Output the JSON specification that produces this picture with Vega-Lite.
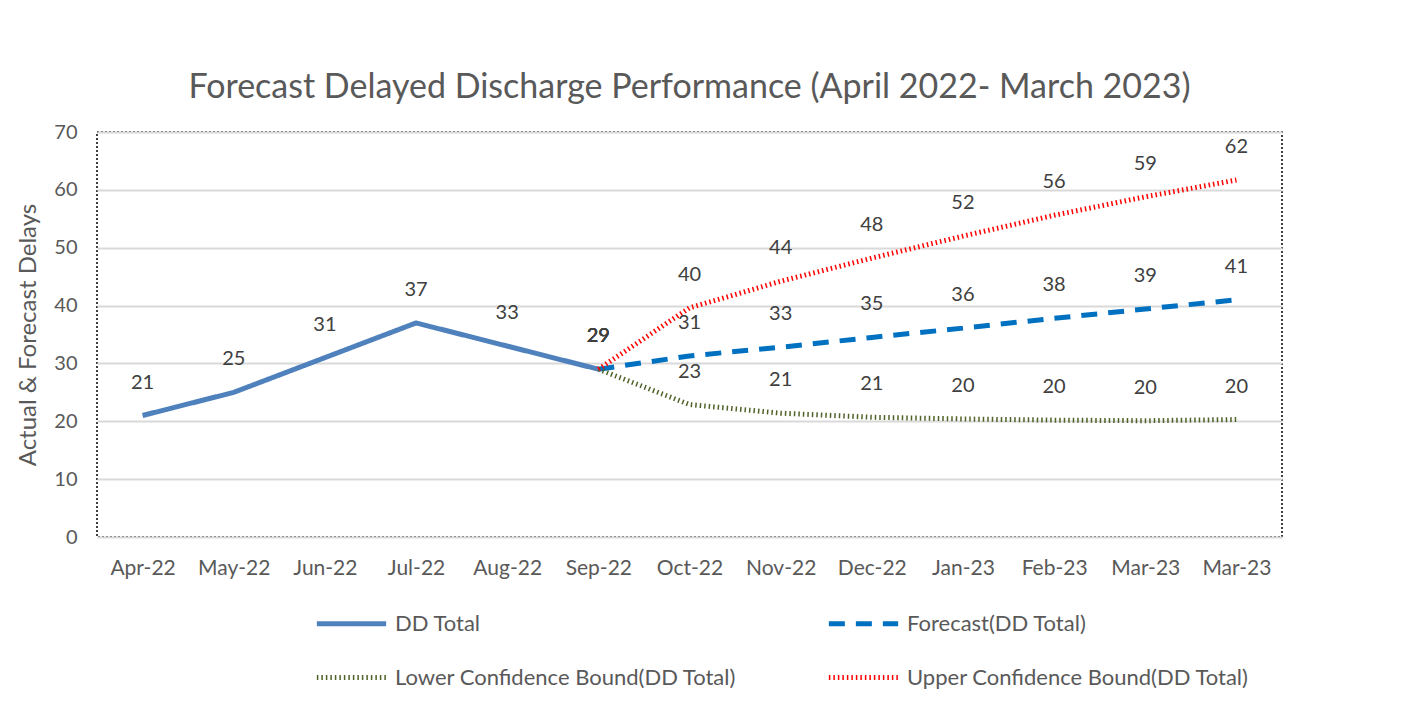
{
  "$schema": "https://vega.github.io/schema/vega-lite/v6.json",
  "width": 1185,
  "height": 405,
  "autosize": {"type": "none"},
  "padding": {"left": 97, "top": 132, "right": 129, "bottom": 165},
  "background": "white",
  "config": {
    "font": "Lato",
    "view": {"stroke": "#000000", "strokeDash": [2, 2], "strokeWidth": 1.5},
    "axis": {"labelFont": "Lato", "titleFont": "Lato", "labelColor": "#595959", "titleColor": "#595959"}
  },
  "title": {
    "text": "Forecast Delayed Discharge Performance (April 2022- March 2023)",
    "fontSize": 34,
    "font": "Lato",
    "fontWeight": "normal",
    "color": "#595959",
    "anchor": "middle",
    "offset": 17
  },
  "data": {
    "values": [
      {"t": 0, "series": "DD Total", "value": 21},
      {"t": 1, "series": "DD Total", "value": 25},
      {"t": 2, "series": "DD Total", "value": 31},
      {"t": 3, "series": "DD Total", "value": 37},
      {"t": 4, "series": "DD Total", "value": 33},
      {"t": 5, "series": "DD Total", "value": 29},
      {"t": 5, "series": "Forecast(DD Total)", "value": 29},
      {"t": 6, "series": "Forecast(DD Total)", "value": 31.3},
      {"t": 7, "series": "Forecast(DD Total)", "value": 32.8},
      {"t": 8, "series": "Forecast(DD Total)", "value": 34.5},
      {"t": 9, "series": "Forecast(DD Total)", "value": 36.1},
      {"t": 10, "series": "Forecast(DD Total)", "value": 37.8},
      {"t": 11, "series": "Forecast(DD Total)", "value": 39.4},
      {"t": 12, "series": "Forecast(DD Total)", "value": 41.0},
      {"t": 5, "series": "Lower Confidence Bound(DD Total)", "value": 29},
      {"t": 6, "series": "Lower Confidence Bound(DD Total)", "value": 22.9},
      {"t": 7, "series": "Lower Confidence Bound(DD Total)", "value": 21.4},
      {"t": 8, "series": "Lower Confidence Bound(DD Total)", "value": 20.7},
      {"t": 9, "series": "Lower Confidence Bound(DD Total)", "value": 20.4},
      {"t": 10, "series": "Lower Confidence Bound(DD Total)", "value": 20.2},
      {"t": 11, "series": "Lower Confidence Bound(DD Total)", "value": 20.1},
      {"t": 12, "series": "Lower Confidence Bound(DD Total)", "value": 20.3},
      {"t": 5, "series": "Upper Confidence Bound(DD Total)", "value": 29},
      {"t": 6, "series": "Upper Confidence Bound(DD Total)", "value": 39.6},
      {"t": 7, "series": "Upper Confidence Bound(DD Total)", "value": 44.2},
      {"t": 8, "series": "Upper Confidence Bound(DD Total)", "value": 48.2},
      {"t": 9, "series": "Upper Confidence Bound(DD Total)", "value": 52.0},
      {"t": 10, "series": "Upper Confidence Bound(DD Total)", "value": 55.6},
      {"t": 11, "series": "Upper Confidence Bound(DD Total)", "value": 58.8},
      {"t": 12, "series": "Upper Confidence Bound(DD Total)", "value": 61.7}
    ]
  },
  "encoding": {
    "x": {
      "field": "t",
      "type": "ordinal",
      "scale": {"type": "point", "padding": 0.5},
      "axis": {
        "title": null,
        "labelAngle": 0,
        "labelFontSize": 21,
        "labelPadding": 20,
        "ticks": false,
        "domain": false,
        "labelExpr": "['Apr-22','May-22','Jun-22','Jul-22','Aug-22','Sep-22','Oct-22','Nov-22','Dec-22','Jan-23','Feb-23','Mar-23','Mar-23'][datum.value]"
      }
    },
    "y": {
      "field": "value",
      "type": "quantitative",
      "scale": {"domain": [0, 70]},
      "axis": {
        "title": "Actual & Forecast Delays",
        "titleFontSize": 24,
        "titleFontWeight": "normal",
        "titlePadding": 13,
        "values": [0, 10, 20, 30, 40, 50, 60, 70],
        "labelFontSize": 20,
        "labelPadding": 20,
        "ticks": false,
        "domain": false,
        "gridColor": "#d9d9d9",
        "gridWidth": 2
      }
    }
  },
  "layer": [
    {
      "mark": {"type": "line", "strokeCap": "butt", "strokeJoin": "round"},
      "encoding": {
        "color": {
          "field": "series",
          "type": "nominal",
          "scale": {
            "domain": ["DD Total", "Forecast(DD Total)", "Lower Confidence Bound(DD Total)", "Upper Confidence Bound(DD Total)"],
            "range": ["#4f81bd", "#0070c0", "#4f6228", "#ff0000"]
          },
          "legend": {
            "title": null,
            "orient": "none",
            "direction": "horizontal",
            "legendX": 217,
            "legendY": 454,
            "columns": 2,
            "columnPadding": 81,
            "rowPadding": 5,
            "symbolType": "stroke",
            "symbolSize": 4800,
            "labelFontSize": 22,
            "labelColor": "#595959",
            "labelFont": "Lato",
            "labelLimit": 500,
            "labelOffset": 6
          }
        },
        "strokeDash": {
          "field": "series",
          "type": "nominal",
          "scale": {
            "domain": ["DD Total", "Forecast(DD Total)", "Lower Confidence Bound(DD Total)", "Upper Confidence Bound(DD Total)"],
            "range": [[1, 0], [16, 11], [1.5, 3], [1.5, 3]]
          }
        },
        "strokeWidth": {
          "field": "series",
          "type": "nominal",
          "scale": {
            "domain": ["DD Total", "Forecast(DD Total)", "Lower Confidence Bound(DD Total)", "Upper Confidence Bound(DD Total)"],
            "range": [5, 5, 1.6, 1.6]
          }
        }
      }
    },
    {
      "mark": {"type": "text", "dy": -33, "fontSize": 20, "color": "#404040", "font": "Lato"},
      "encoding": {
        "text": {"field": "value", "type": "quantitative", "format": ".0f"}
      }
    }
  ]
}
